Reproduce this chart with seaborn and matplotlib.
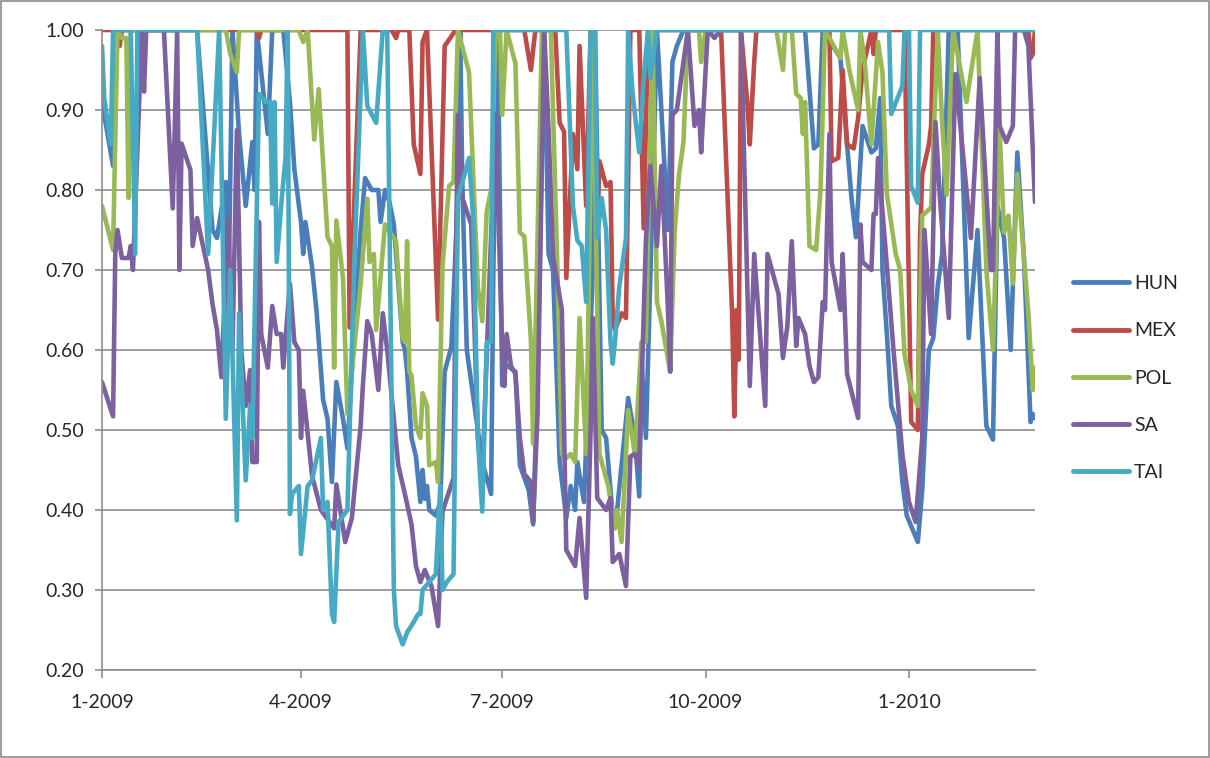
import numpy as np
import pandas as pd
import matplotlib
matplotlib.use("Agg")
import matplotlib.pyplot as plt
import matplotlib.dates as mdates
from matplotlib.ticker import FuncFormatter
from matplotlib.patches import Rectangle
import seaborn as sns

# Days counted from 1 Jan 2009, one list per series, with the matching values
hun_day = [0, 5, 6, 43, 50, 52, 56, 57, 59, 62, 65, 68, 69, 70, 75, 77, 82, 85, 87, 90, 91, 92, 95,
           97, 100, 102, 104, 106, 109, 111, 114, 117, 119, 122, 125, 126, 128, 130, 132, 136, 137,
           138, 140, 142, 144, 145, 146, 147, 148, 151, 153, 155, 158, 161, 162, 163, 165, 172, 176,
           177, 179, 181, 182, 187, 189, 193, 195, 197, 200, 202, 204, 207, 210, 212, 214, 215, 218,
           222, 223, 226, 228, 231, 233, 238, 241, 243, 244, 246, 247, 249, 251, 256, 258, 260, 263,
           318, 322, 324, 326, 334, 337, 339, 341, 344, 348, 350, 352, 353, 355, 357, 360, 362, 364,
           369, 371, 374, 376, 378, 380, 383, 387, 392, 396, 400, 403, 405, 408, 411, 414, 417, 420,
           421, 422]
hun_val = [0.91, 0.83, 1.0, 1.0, 0.75, 0.74, 0.81, 0.62, 1.0, 0.87, 0.78, 0.86, 0.80, 1.0, 0.87, 1.0,
           1.0, 0.91, 0.826, 0.76, 0.72, 0.76, 0.704, 0.65, 0.538, 0.514, 0.435, 0.56, 0.514, 0.477,
           0.62, 0.75, 0.815, 0.80, 0.80, 0.76, 0.80, 0.785, 0.757, 0.61, 0.60, 0.573, 0.49, 0.467,
           0.41, 0.45, 0.414, 0.43, 0.40, 0.393, 0.41, 0.573, 0.604, 0.794, 1.0, 0.805, 0.60, 0.46,
           0.42, 0.70, 1.0, 0.556, 0.583, 0.573, 0.456, 0.425, 0.382, 0.567, 1.0, 0.72, 0.70, 0.46,
           0.39, 0.43, 0.40, 0.46, 0.41, 0.70, 1.0, 0.50, 0.49, 0.393, 0.40, 0.54, 0.49, 0.417, 0.59,
           0.49, 0.59, 0.79, 1.0, 0.75, 0.96, 0.98, 1.0, 1.0, 0.852, 0.857, 1.0, 0.965, 0.857, 0.79,
           0.741, 0.88, 0.847, 0.852, 0.915, 0.70, 0.62, 0.53, 0.505, 0.435, 0.393, 0.36, 0.425, 0.60,
           0.615, 0.68, 0.72, 1.0, 1.0, 0.615, 0.75, 0.505, 0.488, 0.78, 0.74, 0.60, 0.847, 0.715,
           0.51, 0.52, 0.515]

mex_day = [0, 7, 8, 9, 70, 71, 72, 111, 112, 117, 131, 133, 134, 139, 141, 144, 145, 147, 152, 155,
           160, 191, 194, 196, 205, 207, 209, 210, 213, 215, 216, 219, 221, 222, 224, 225, 228, 230,
           231, 232, 235, 237, 239, 243, 245, 247, 280, 285, 286, 287, 288, 289, 292, 293, 295, 296,
           329, 330, 333, 335, 337, 340, 342, 344, 348, 349, 350, 363, 366, 369, 370, 371, 374, 375,
           376, 419, 420, 421, 422]
mex_val = [1.0, 1.0, 0.98, 1.0, 1.0, 0.99, 1.0, 1.0, 0.628, 1.0, 1.0, 0.99, 1.0, 1.0, 0.857, 0.82,
           0.985, 1.0, 0.638, 0.98, 1.0, 1.0, 0.95, 1.0, 1.0, 0.884, 0.873, 0.69, 0.87, 0.826, 0.98,
           0.78, 1.0, 1.0, 0.747, 0.836, 0.805, 0.81, 0.64, 0.625, 0.646, 0.64, 1.0, 1.0, 0.752, 1.0,
           1.0, 0.646, 0.517, 0.65, 0.588, 1.0, 0.905, 0.857, 0.96, 1.0, 1.0, 0.836, 0.84, 0.95, 0.857,
           0.852, 0.89, 0.95, 1.0, 0.97, 1.0, 1.0, 0.51, 0.50, 0.74, 0.82, 0.857, 0.88, 1.0, 1.0, 0.965,
           0.97, 1.0]

pol_day = [0, 5, 7, 9, 11, 12, 13, 56, 58, 61, 62, 89, 91, 93, 96, 98, 102, 104, 105, 106, 109, 111,
           114, 117, 120, 121, 123, 124, 127, 128, 133, 136, 137, 138, 139, 140, 142, 144, 145, 147,
           148, 151, 152, 154, 157, 159, 161, 166, 170, 172, 174, 176, 178, 180, 181, 183, 187, 189,
           191, 194, 195, 199, 203, 206, 208, 210, 212, 214, 216, 219, 222, 225, 229, 232, 233, 235,
           238, 241, 244, 246, 247, 249, 251, 253, 257, 259, 261, 263, 265, 270, 271, 273, 305, 308,
           309, 312, 314, 316, 317, 318, 320, 323, 325, 327, 334, 335, 338, 342, 343, 345, 348, 351,
           353, 355, 359, 361, 363, 366, 369, 371, 375, 378, 380, 382, 385, 391, 396, 400, 403, 406,
           408, 410, 412, 414, 419, 421, 422]
pol_val = [0.78, 0.725, 1.0, 0.99, 0.99, 0.79, 1.0, 1.0, 0.97, 0.947, 1.0, 1.0, 0.985, 1.0, 0.863,
           0.926, 0.741, 0.73, 0.578, 0.762, 0.69, 0.52, 0.60, 0.683, 0.789, 0.71, 0.72, 0.625, 0.725,
           0.757, 0.736, 0.615, 0.61, 0.736, 0.573, 0.568, 0.505, 0.49, 0.546, 0.53, 0.456, 0.46,
           0.435, 0.705, 0.805, 0.81, 1.0, 0.947, 0.678, 0.636, 0.773, 0.80, 1.0, 1.0, 0.894, 1.0,
           0.958, 0.747, 0.742, 0.612, 0.483, 1.0, 1.0, 0.70, 0.47, 0.465, 0.47, 0.46, 0.64, 0.47,
           1.0, 0.47, 0.43, 0.377, 0.40, 0.36, 0.525, 0.47, 0.61, 0.61, 0.75, 1.0, 0.66, 0.636, 0.573,
           0.747, 0.82, 0.86, 1.0, 1.0, 0.96, 1.0, 1.0, 0.95, 1.0, 1.0, 0.92, 0.915, 0.87, 0.91, 0.73,
           0.725, 0.80, 1.0, 0.965, 1.0, 0.95, 0.90, 1.0, 0.96, 0.857, 0.985, 0.947, 0.795, 0.72, 0.70,
           0.594, 0.55, 0.53, 0.768, 0.778, 1.0, 0.884, 0.794, 1.0, 0.91, 1.0, 0.70, 0.60, 0.873,
           0.747, 0.768, 0.683, 0.82, 0.646, 0.55, 0.578]

sa_day = [0, 5, 6, 7, 9, 12, 13, 14, 18, 19, 20, 28, 32, 34, 35, 36, 40, 41, 43, 48, 50, 52, 54, 57,
          59, 61, 63, 65, 67, 68, 70, 71, 72, 75, 77, 79, 81, 82, 85, 87, 89, 90, 91, 95, 99, 105, 106,
          110, 113, 117, 118, 120, 122, 125, 127, 129, 134, 137, 140, 142, 144, 146, 149, 152, 154,
          159, 160, 161, 163, 167, 170, 172, 178, 181, 182, 183, 185, 187, 189, 191, 194, 195, 197,
          200, 202, 204, 208, 210, 214, 216, 219, 221, 222, 224, 228, 230, 231, 234, 237, 239, 241,
          243, 246, 248, 251, 253, 256, 257, 258, 260, 265, 268, 270, 271, 274, 277, 280, 289, 293,
          295, 300, 301, 306, 308, 310, 312, 314, 315, 318, 320, 322, 324, 326, 327, 329, 330, 334,
          335, 337, 342, 343, 344, 348, 349, 350, 351, 354, 358, 362, 365, 368, 371, 372, 375, 377,
          379, 383, 386, 391, 393, 397, 402, 403, 405, 406, 409, 412, 413, 417, 419, 422]
sa_val = [0.56, 0.517, 0.72, 0.75, 0.715, 0.715, 0.73, 0.70, 1.0, 0.923, 1.0, 1.0, 0.777, 1.0, 0.70,
          0.858, 0.825, 0.73, 0.765, 0.70, 0.657, 0.625, 0.566, 0.766, 0.60, 0.875, 0.60, 0.53, 0.575,
          0.46, 0.46, 0.76, 0.62, 0.578, 0.655, 0.62, 0.62, 0.578, 0.683, 0.61, 0.60, 0.49, 0.549,
          0.443, 0.40, 0.377, 0.432, 0.36, 0.39, 0.506, 0.556, 0.636, 0.62, 0.55, 0.646, 0.60, 0.456,
          0.42, 0.382, 0.33, 0.31, 0.325, 0.305, 0.255, 0.398, 0.44, 0.70, 0.894, 0.79, 0.757, 0.49,
          0.44, 0.895, 0.60, 0.555, 0.62, 0.58, 0.57, 0.49, 0.445, 0.435, 0.385, 0.52, 1.0, 0.875,
          0.717, 0.65, 0.35, 0.33, 0.39, 0.29, 0.50, 0.64, 0.415, 0.40, 0.415, 0.335, 0.345, 0.305,
          0.467, 0.47, 0.455, 0.736, 0.83, 0.73, 0.83, 0.65, 0.573, 0.894, 0.90, 1.0, 0.88, 0.90,
          0.847, 1.0, 0.99, 1.0, 1.0, 0.555, 0.72, 0.53, 0.72, 0.67, 0.59, 0.63, 0.736, 0.605, 0.64,
          0.62, 0.58, 0.56, 0.566, 0.66, 0.65, 0.87, 0.71, 0.65, 0.72, 0.57, 0.515, 0.757, 0.71, 0.70,
          0.77, 0.77, 0.84, 0.74, 0.60, 0.47, 0.41, 0.385, 0.49, 0.75, 0.62, 0.885, 0.79, 0.64, 0.945,
          0.80, 0.74, 0.94, 0.70, 0.70, 1.0, 0.88, 0.86, 0.88, 1.0, 1.0, 0.98, 0.785]

tai_day = [0, 1, 4, 5, 13, 15, 16, 43, 48, 53, 56, 58, 61, 62, 65, 67, 68, 71, 74, 76, 77, 78, 79,
           81, 83, 84, 85, 86, 89, 90, 93, 95, 99, 100, 102, 104, 105, 107, 111, 114, 118, 120, 124,
           127, 129, 132, 133, 136, 138, 141, 143, 144, 145, 148, 151, 153, 154, 156, 159, 161, 166,
           168, 170, 172, 174, 176, 177, 210, 213, 215, 217, 219, 221, 223, 224, 226, 228, 230, 231,
           232, 234, 237, 238, 240, 243, 245, 247, 248, 251, 356, 357, 362, 363, 365, 366, 369, 370,
           422]
tai_val = [0.98, 0.915, 0.857, 1.0, 1.0, 0.72, 1.0, 1.0, 0.72, 1.0, 0.514, 0.70, 0.387, 0.646, 0.437,
           0.53, 0.49, 0.92, 0.91, 0.91, 0.783, 0.91, 0.71, 0.78, 0.84, 1.0, 0.395, 0.42, 0.43, 0.345,
           0.43, 0.437, 0.49, 0.40, 0.41, 0.27, 0.26, 0.385, 0.40, 0.70, 1.0, 0.905, 0.884, 1.0, 1.0,
           0.30, 0.255, 0.232, 0.247, 0.26, 0.27, 0.27, 0.30, 0.31, 0.32, 0.43, 0.30, 0.31, 0.32, 0.79,
           0.84, 0.76, 0.49, 0.398, 0.61, 0.61, 1.0, 1.0, 0.78, 0.737, 0.73, 0.66, 1.0, 1.0, 0.74,
           0.79, 0.75, 0.61, 0.583, 0.61, 0.68, 0.74, 1.0, 0.92, 0.847, 0.94, 1.0, 0.94, 1.0, 1.0,
           0.895, 0.93, 1.0, 1.0, 0.805, 0.784, 1.0, 1.0]

series_names = ["HUN", "MEX", "POL", "SA", "TAI"]
series_colors = ["#4A7EBB", "#BE4B48", "#98B954", "#7D60A0", "#46AAC5"]
y_ticks = [0.2, 0.3, 0.4, 0.5, 0.6, 0.7, 0.8, 0.9, 1.0]

start = pd.Timestamp("2009-01-01")
frames = []
for name, days, vals in zip(series_names,
                            [hun_day, mex_day, pol_day, sa_day, tai_day],
                            [hun_val, mex_val, pol_val, sa_val, tai_val]):
    frames.append(pd.DataFrame({
        "date": start + pd.to_timedelta(days, unit="D"),
        "value": vals,
        "series": name,
    }))
df = pd.concat(frames, ignore_index=True)

sns.set_theme(style="white")
plt.rcParams["font.family"] = ["Lato", "DejaVu Sans"]
plt.rcParams["lines.solid_joinstyle"] = "round"
plt.rcParams["lines.solid_capstyle"] = "round"

fig = plt.figure(figsize=(12.1, 7.58), dpi=100)
ax = fig.add_axes([102 / 1210, 1 - 670 / 758, (1035 - 102) / 1210, 640 / 758])

sns.lineplot(data=df, x="date", y="value", hue="series", hue_order=series_names,
             palette=series_colors, estimator=None, errorbar=None, sort=True,
             linewidth=3.3, ax=ax)

ax.set_ylim(0.2, 1.0)
ax.set_xlim(start, df["date"].max())
ax.set_yticks(y_ticks)
ax.yaxis.set_major_formatter(FuncFormatter(lambda v, p: f"{v:.2f}"))
ax.xaxis.set_major_locator(mdates.MonthLocator(bymonth=[1, 4, 7, 10]))
ax.xaxis.set_major_formatter(FuncFormatter(
    lambda v, p: f"{mdates.num2date(v).month}-{mdates.num2date(v).year}"))

ax.yaxis.grid(True, color="#8C8C8C", linewidth=1.2)
ax.set_axisbelow(True)
for side in ["top", "right"]:
    ax.spines[side].set_visible(False)
for side in ["left", "bottom"]:
    ax.spines[side].set_color("#8C8C8C")
    ax.spines[side].set_linewidth(1.2)

ax.tick_params(axis="y", which="major", length=5, width=1.2, color="#8C8C8C",
               direction="out", labelsize=14, pad=8, left=True)
ax.tick_params(axis="x", which="major", length=6, width=1.2, color="#8C8C8C",
               direction="out", labelsize=14, pad=11, bottom=True)
ax.set_xlabel("")
ax.set_ylabel("")

handles, labels = ax.get_legend_handles_labels()
ax.legend(handles, labels, loc="center left", frameon=False,
          bbox_to_anchor=(1073 / 1210, 1 - 378 / 758), bbox_transform=fig.transFigure,
          fontsize=14, handlelength=2.9, handletextpad=0.25, labelspacing=1.55,
          borderpad=0, borderaxespad=0)
for line in ax.get_legend().get_lines():
    line.set_linewidth(3.5)

fig.patches.append(Rectangle((0.0008, 0.0012), 0.9984, 0.9976, transform=fig.transFigure,
                             fill=False, edgecolor="#8C8C8C", linewidth=1.2))

fig.savefig("out.png", dpi=100)
